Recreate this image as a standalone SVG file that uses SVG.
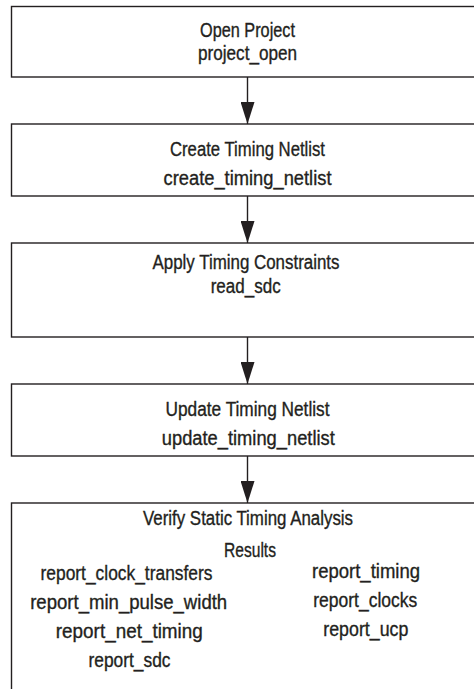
<svg xmlns="http://www.w3.org/2000/svg" width="474" height="689" viewBox="0 0 474 689">
<defs>
<style>
.box{fill:#fff;stroke:#231f20;stroke-width:1.4}
.t{font-family:"Liberation Sans",Arial,sans-serif;font-size:20px;fill:#231f20;stroke:#231f20;stroke-width:0.35;text-anchor:middle}
.c{stroke:#231f20;stroke-width:1.4;fill:none}
</style>
<marker id="ah" markerUnits="userSpaceOnUse" markerWidth="22" markerHeight="14" refX="22" refY="7" orient="auto" viewBox="0 0 22 14">
<path d="M0,0 L22,7 L0,14 z" fill="#231f20"/>
</marker>
</defs>
<rect width="474" height="689" fill="#fff"/>
<g id="connectors">
<line class="c" x1="247.5" y1="77" x2="247.5" y2="124" marker-end="url(#ah)"/>
<line class="c" x1="247.5" y1="196" x2="247.5" y2="243" marker-end="url(#ah)"/>
<line class="c" x1="247.5" y1="337" x2="247.5" y2="384" marker-end="url(#ah)"/>
<line class="c" x1="247.5" y1="456" x2="247.5" y2="503" marker-end="url(#ah)"/>
</g>
<g id="open_project">
<rect class="box" x="11.5" y="6.5" width="472" height="70.5"/>
<text class="t" x="247.5" y="36.5" textLength="95" lengthAdjust="spacingAndGlyphs">Open Project</text>
<text class="t" x="247.5" y="60" textLength="99" lengthAdjust="spacingAndGlyphs">project_open</text>
</g>
<g id="create_timing_netlist">
<rect class="box" x="11.5" y="124" width="472" height="72"/>
<text class="t" x="247.5" y="156" textLength="155" lengthAdjust="spacingAndGlyphs">Create Timing Netlist</text>
<text class="t" x="247.5" y="185" textLength="168" lengthAdjust="spacingAndGlyphs">create_timing_netlist</text>
</g>
<g id="apply_constraints">
<rect class="box" x="11.5" y="243" width="472" height="94"/>
<text class="t" x="246" y="269" textLength="187" lengthAdjust="spacingAndGlyphs">Apply Timing Constraints</text>
<text class="t" x="245.7" y="293" textLength="70" lengthAdjust="spacingAndGlyphs">read_sdc</text>
</g>
<g id="update_timing_netlist">
<rect class="box" x="11.5" y="384" width="472" height="72"/>
<text class="t" x="247.5" y="416" textLength="164" lengthAdjust="spacingAndGlyphs">Update Timing Netlist</text>
<text class="t" x="248.3" y="445" textLength="173" lengthAdjust="spacingAndGlyphs">update_timing_netlist</text>
</g>
<g id="verify_results">
<rect class="box" x="11.5" y="503" width="472" height="200"/>
<text class="t" x="248" y="525" textLength="210" lengthAdjust="spacingAndGlyphs">Verify Static Timing Analysis</text>
<text class="t" x="250" y="557" textLength="52" lengthAdjust="spacingAndGlyphs">Results</text>
<text class="t" x="126.5" y="580" textLength="172" lengthAdjust="spacingAndGlyphs">report_clock_transfers</text>
<text class="t" x="128.7" y="609" textLength="197" lengthAdjust="spacingAndGlyphs">report_min_pulse_width</text>
<text class="t" x="129.3" y="638" textLength="147" lengthAdjust="spacingAndGlyphs">report_net_timing</text>
<text class="t" x="129.5" y="667" textLength="82" lengthAdjust="spacingAndGlyphs">report_sdc</text>
<text class="t" x="366" y="578" textLength="108" lengthAdjust="spacingAndGlyphs">report_timing</text>
<text class="t" x="365.3" y="607" textLength="104" lengthAdjust="spacingAndGlyphs">report_clocks</text>
<text class="t" x="365.8" y="636" textLength="85" lengthAdjust="spacingAndGlyphs">report_ucp</text>
</g>
</svg>
